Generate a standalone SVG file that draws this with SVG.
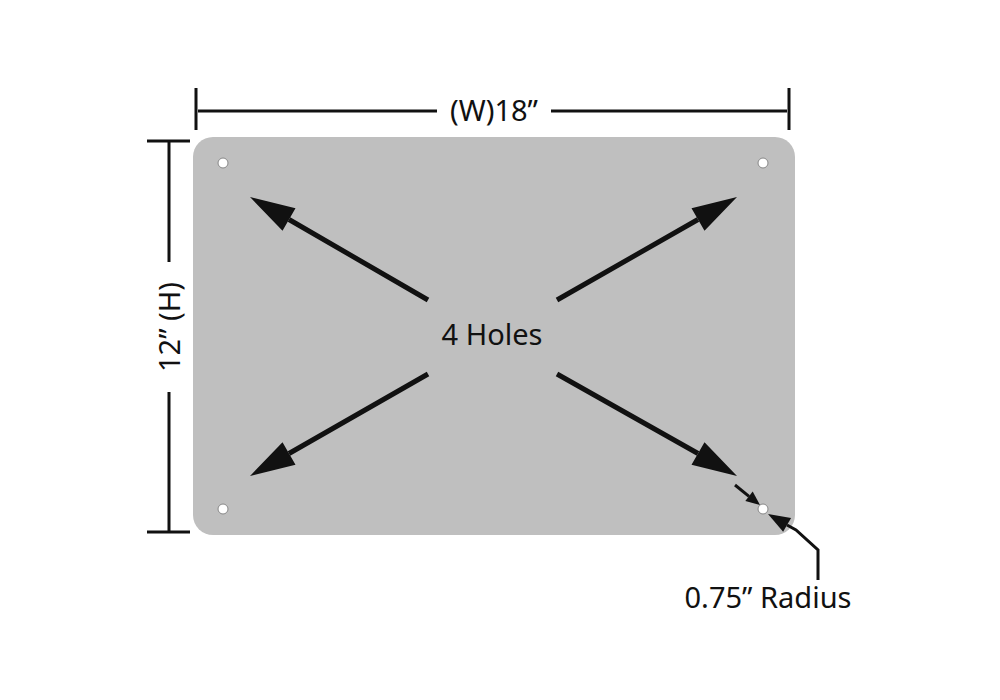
<svg xmlns="http://www.w3.org/2000/svg" width="1000" height="700" viewBox="0 0 1000 700">
<style>
.t{font-family:"Noto Sans","Open Sans",sans-serif;font-size:29px;fill:#111}
.l{stroke:#111;stroke-width:3;fill:none}
.a{stroke:#111;stroke-width:5;fill:none}
.hd{fill:#111}
.h{fill:#fff;stroke:#888;stroke-width:1}
</style>
<g id="plate">
<rect x="193" y="137" width="602" height="398" rx="20" fill="#bfbfbf"/>
<circle class="h" cx="223" cy="163" r="5"/>
<circle class="h" cx="763" cy="163" r="5"/>
<circle class="h" cx="223" cy="509" r="5"/>
<circle class="h" cx="763" cy="509" r="5"/>
</g>
<g id="connectors">
<path class="l" d="M196,88V130M789,88V130M198,111H437M551,111H787"/>
<path class="l" d="M147,141H190M147,532H190M169,141V262M169,392V532"/>
<path class="a" d="M428,300L289,219.5M557,300L698,219.5M428,374L289,453.5M557,374L698,453.5"/>
<path class="hd" d="M250,197L295.5,208.2L282.5,230.8ZM737,197L704.5,230.8L691.5,208.2ZM250,476L295.5,464.8L282.5,442.2ZM737,476L704.5,442.2L691.5,464.8Z"/>
<path class="l" d="M735,485L749,496.3"/>
<path class="hd" d="M760,505L745.3,501L752.7,491.6Z"/>
<polyline points="818,580 818,550 796,530 787,525" fill="none" stroke="#111" stroke-width="3"/>
<path class="hd" d="M768,514L791.1,518L783.1,531.8Z"/>
</g>
<g id="labels">
<text class="t" x="494" y="121" text-anchor="middle">(W)18”</text>
<text class="t" x="0" y="0" text-anchor="middle" transform="translate(180,327) rotate(-90)">12” (H)</text>
<text class="t" x="492" y="345" text-anchor="middle">4 Holes</text>
<text class="t" x="768" y="608" text-anchor="middle">0.75” Radius</text>
</g>
</svg>
